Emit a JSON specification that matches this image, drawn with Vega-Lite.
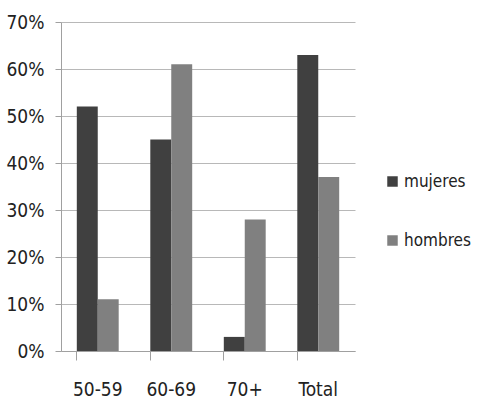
{
  "$schema": "https://vega.github.io/schema/vega-lite/v6.json",
  "width": 294,
  "height": 329,
  "autosize": {"type": "none"},
  "padding": {"left": 61, "top": 22, "right": 125, "bottom": 57},
  "background": "white",
  "data": {
    "values": [
      {"grupo": "50-59", "sexo": "mujeres", "valor": 0.52},
      {"grupo": "50-59", "sexo": "hombres", "valor": 0.11},
      {"grupo": "60-69", "sexo": "mujeres", "valor": 0.45},
      {"grupo": "60-69", "sexo": "hombres", "valor": 0.61},
      {"grupo": "70+", "sexo": "mujeres", "valor": 0.03},
      {"grupo": "70+", "sexo": "hombres", "valor": 0.28},
      {"grupo": "Total", "sexo": "mujeres", "valor": 0.63},
      {"grupo": "Total", "sexo": "hombres", "valor": 0.37}
    ]
  },
  "mark": {"type": "bar"},
  "encoding": {
    "x": {
      "field": "grupo",
      "type": "nominal",
      "sort": ["50-59", "60-69", "70+", "Total"],
      "scale": {"paddingInner": 0.43, "paddingOuter": 0.215},
      "axis": {
        "title": null,
        "labelAngle": 0,
        "bandPosition": 0,
        "domainColor": "#a0a0a0",
        "tickColor": "#a0a0a0",
        "tickSize": 9,
        "labelPadding": 20,
        "labelFont": "DejaVu Sans Condensed, Open Sans",
        "labelFontSize": 19,
        "labelColor": "#222222",
        "labelOverlap": false,
        "grid": false
      }
    },
    "xOffset": {"field": "sexo", "type": "nominal", "sort": ["mujeres", "hombres"]},
    "y": {
      "field": "valor",
      "type": "quantitative",
      "scale": {"domain": [0, 0.7]},
      "axis": {
        "title": null,
        "format": ".0%",
        "values": [0, 0.1, 0.2, 0.3, 0.4, 0.5, 0.6, 0.7],
        "labelOverlap": false,
        "domainColor": "#a0a0a0",
        "tickColor": "#a0a0a0",
        "tickSize": 6,
        "labelPadding": 11,
        "labelFont": "DejaVu Sans Condensed, Open Sans",
        "labelFontSize": 19,
        "labelColor": "#222222",
        "gridColor": "#b8b8b8",
        "gridWidth": 1
      }
    },
    "color": {
      "field": "sexo",
      "type": "nominal",
      "sort": ["mujeres", "hombres"],
      "scale": {"domain": ["mujeres", "hombres"], "range": ["#404040", "#808080"]},
      "legend": {
        "title": null,
        "orient": "none",
        "legendX": 323,
        "legendY": 151,
        "symbolType": "square",
        "symbolSize": 110,
        "symbolStrokeWidth": 0,
        "labelFont": "DejaVu Sans Condensed, Open Sans",
        "labelFontSize": 17,
        "labelColor": "#222222",
        "rowPadding": 41,
        "labelOffset": 3
      }
    }
  },
  "config": {"view": {"stroke": null}}
}
